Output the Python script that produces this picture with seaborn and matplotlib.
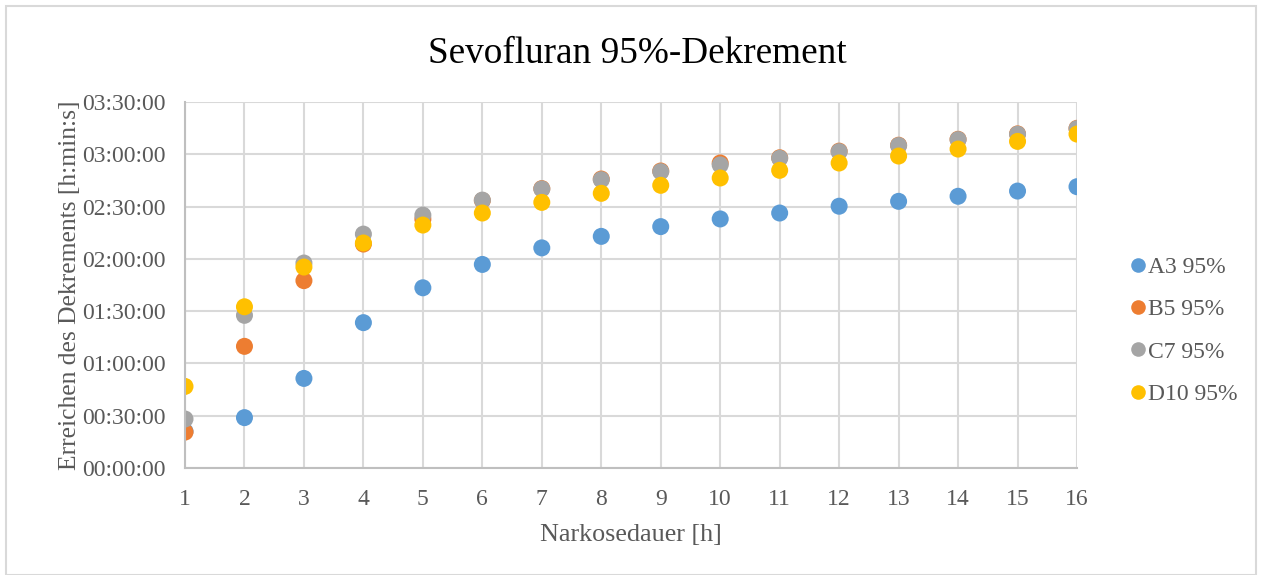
import matplotlib
matplotlib.use("Agg")
import matplotlib.pyplot as plt
import matplotlib.ticker as mticker
import seaborn as sns
import pandas as pd

# Narkosedauer in Stunden, Dekrementzeit in Minuten (aus dem Bild geschaetzt)
hours = list(range(1, 17))
a3 = [21.0, 28.9, 51.4, 83.4, 103.4, 116.8, 126.3, 132.9, 138.5, 142.9, 146.3, 150.2, 153.0, 155.9, 158.9, 161.4]
b5 = [20.6, 69.8, 107.5, 128.5, 142.8, 153.5, 160.3, 165.8, 170.4, 175.0, 178.0, 181.8, 185.2, 188.6, 191.7, 194.9]
c7 = [28.1, 87.6, 117.6, 134.2, 145.1, 153.7, 160.1, 165.4, 170.0, 173.9, 177.7, 181.5, 185.0, 188.4, 191.5, 194.7]
d10 = [46.8, 92.5, 115.3, 129.1, 139.4, 146.3, 152.4, 157.6, 162.2, 166.4, 170.8, 175.0, 179.0, 183.0, 187.4, 191.6]
series_names = ["A3 95%", "B5 95%", "C7 95%", "D10 95%"]
colors = ["#5B9BD5", "#ED7D31", "#A5A5A5", "#FFC000"]

df = pd.DataFrame({"Stunden": hours, series_names[0]: a3, series_names[1]: b5,
                   series_names[2]: c7, series_names[3]: d10})
long_df = df.melt(id_vars="Stunden", var_name="Serie", value_name="Minuten")

sns.set_style("whitegrid")
plt.rcParams["font.family"] = ["Liberation Serif", "DejaVu Serif"]

txt_color = "#595959"
grid_color = "#D9D9D9"

fig = plt.figure(figsize=(12.62, 5.75), dpi=100)
ax = fig.add_axes([185 / 1262, 1 - 468 / 575, (1077 - 185) / 1262, (468 - 102) / 575])

sns.scatterplot(data=long_df, x="Stunden", y="Minuten", hue="Serie",
                hue_order=series_names, palette=colors, s=150,
                edgecolor="none", linewidth=0, ax=ax, legend=True)


def fmt_time(v, pos):
    m = int(round(v))
    return f"{m // 60:02d}:{m % 60:02d}:00"


ax.set_xlim(1, 16)
ax.set_ylim(0, 210)
ax.set_xticks(hours)
ax.set_yticks(range(0, 211, 30))
ax.yaxis.set_major_formatter(mticker.FuncFormatter(fmt_time))
ax.tick_params(axis="both", length=0, labelsize=17, labelcolor=txt_color)
ax.tick_params(axis="x", pad=15)
ax.tick_params(axis="y", pad=14)
ax.grid(True, color=grid_color, linewidth=1.5)
ax.set_axisbelow(True)
for side in ["top", "right"]:
    ax.spines[side].set_visible(False)
for side in ["left", "bottom"]:
    ax.spines[side].set_color("#BFBFBF")
    ax.spines[side].set_linewidth(1.5)

ax.set_xlabel("Narkosedauer [h]", fontsize=18.8, color=txt_color, labelpad=10)
ax.set_ylabel("Erreichen des Dekrements [h:min:s]", fontsize=18.4, color=txt_color)
ax.yaxis.set_label_coords(-0.117, 0.5)

fig.suptitle("Sevofluran 95%-Dekrement", fontsize=26.8, color="black", x=0.505, y=0.937)

leg = ax.legend(loc="center left", bbox_to_anchor=(1.035, 0.375), frameon=False,
                fontsize=17, labelspacing=0.88, handletextpad=-0.3,
                handlelength=1.5, borderpad=0)
for t in leg.get_texts():
    t.set_color(txt_color)
for h in leg.legend_handles:
    h.set_markersize(10.5)

# Rahmen des Diagrammbereichs
fig.patches.append(plt.Rectangle((6 / 1262, 0.0), 1 - 12 / 1262, 1 - 6 / 575,
                                 transform=fig.transFigure, fill=False,
                                 edgecolor=grid_color, linewidth=1.5))

fig.savefig("out.png", dpi=100)
